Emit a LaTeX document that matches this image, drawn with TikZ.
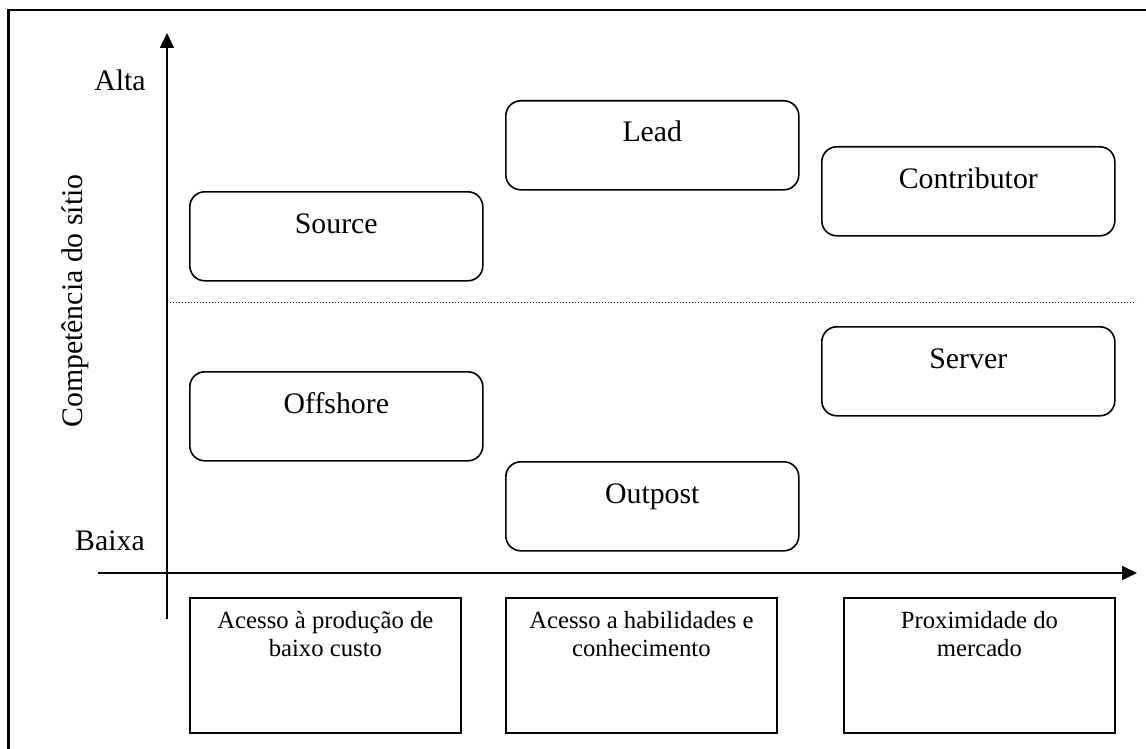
\documentclass[tikz,border=0pt]{standalone}
\usepackage{fontspec}
\setmainfont{Liberation Serif}
\usetikzlibrary{arrows.meta}
\tikzset{
 rbox/.style={draw, line width=1.6pt, rounded corners=15pt, minimum width=293pt, minimum height=89pt, inner sep=0pt, anchor=north west},
 sqbox/.style={draw, line width=1.8pt, minimum width=271pt, minimum height=135pt, inner sep=0pt, anchor=north west},
 big/.style={font=\fontsize{29.8}{34}\selectfont, inner sep=0pt, anchor=base},
 small/.style={font=\fontsize{24.7}{28}\selectfont, inner sep=0pt, anchor=north, align=center},
 axis/.style={line width=1.6pt, -{Triangle[length=15pt,width=14pt]}},
 frame/.style={line width=2.8pt},
 divider/.style={line width=1pt, dash pattern=on 1pt off 2pt},
}
\begin{document}
\begin{tikzpicture}[x=1pt,y=-1pt]
\useasboundingbox (0,0) rectangle (1146,749);
\clip (0,0) rectangle (1146,749);
% outer frame (cropped)
\coordinate (fbl) at (8.5,760);
\coordinate (ftl) at (8.5,10);
\coordinate (ftr) at (1160,10);
\draw[frame] (fbl) -- (ftl) -- (ftr);

% axes
\coordinate (yb) at (167,619);
\coordinate (yt) at (167,33);
\coordinate (xl) at (98,573);
\coordinate (xr) at (1137,573);
\draw[axis] (yb) -- (yt);
\draw[axis] (xl) -- (xr);

% divider
\coordinate (dl) at (167,302);
\coordinate (dr) at (1136,302);
\draw[divider] (dl) -- (dr);

% axis labels
\node[big] (alta) at (120,91) {Alta};
\node[big] (baixa) at (110,550) {Baixa};
\node[big, rotate=90] (comp) at (82,301) {Competência do sítio};

% rounded boxes
\node[rbox] (source) at (189,191) {};
\node[big] (sourcet) at ([yshift=-42pt]source.north) {Source};
\node[rbox] (offshore) at (189,371) {};
\node[big] (offshoret) at ([yshift=-42pt]offshore.north) {Offshore};
\node[rbox] (lead) at (505,100) {};
\node[big] (leadt) at ([yshift=-42pt]lead.north) {Lead};
\node[rbox] (outpost) at (505,461) {};
\node[big] (outpostt) at ([yshift=-42pt]outpost.north) {Outpost};
\node[rbox] (contrib) at (821,146) {};
\node[big] (contribt) at ([yshift=-42pt]contrib.north) {Contributor};
\node[rbox] (server) at (821,326) {};
\node[big] (servert) at ([yshift=-42pt]server.north) {Server};

% bottom boxes
\node[sqbox] (b1) at (189,597) {};
\node[small] (b1t) at ([yshift=-14pt]b1.north) {Acesso à produção de\\baixo custo};
\node[sqbox] (b2) at (505,597) {};
\node[small] (b2t) at ([yshift=-14pt]b2.north) {Acesso a habilidades e\\conhecimento};
\node[sqbox] (b3) at (843,597) {};
\node[small] (b3t) at ([yshift=-14pt]b3.north) {Proximidade do\\mercado};
\end{tikzpicture}
\end{document}
